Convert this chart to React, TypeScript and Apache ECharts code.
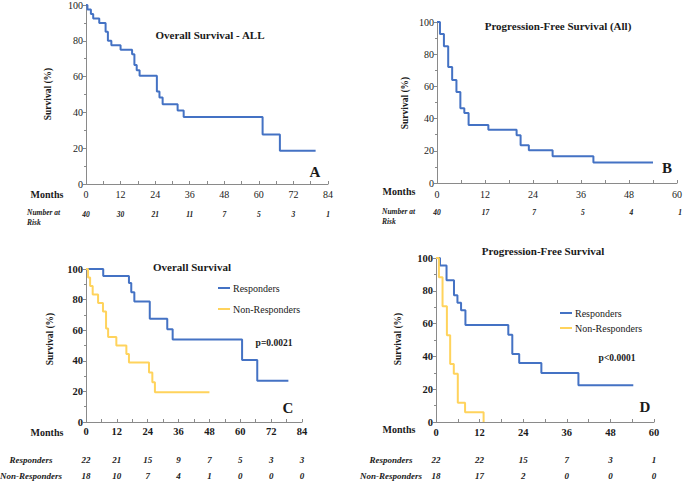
import React, { useEffect, useRef } from "react";
import * as echarts from "echarts";

const FONT = "Liberation Serif, Times New Roman, serif";
const BLUE = "#4472C4";
const YELLOW = "#FFD35C";
const AXIS = "#8a8a8a";
const INK = "#1a1a1a";

// Panel A: Overall Survival - ALL
const osAllMonths = [0, 0.5, 1.7, 2.5, 4.6, 6.8, 7.6, 8.8, 12.0, 16.0, 16.8, 17.6, 18.6, 24.6, 25.5, 26.6, 31.8, 33.9, 61.3, 67.3, 79.7];
const osAllSurvival = [100, 97.5, 95, 92.5, 90, 85, 80, 77.5, 75, 72.5, 66.5, 63.5, 60.5, 51.7, 48.3, 44.6, 41, 37.4, 27.7, 18.6, 18.6];
const osAllAtRisk = [40, 30, 21, 11, 7, 5, 3, 1];
const osTicks = [0, 12, 24, 36, 48, 60, 72, 84];

// Panel B: Progression-Free Survival (All)
const pfsAllMonths = [0, 0.74, 1.73, 2.8, 3.79, 4.86, 5.84, 6.83, 7.9, 12.84, 19.9, 20.9, 22.96, 28.9, 39.1, 54.0];
const pfsAllSurvival = [100, 92.5, 85, 72, 64, 56.5, 46.5, 43.5, 36, 33, 29.7, 23.4, 20.3, 16.6, 12.8, 12.8];
const pfsAllAtRisk = [40, 17, 7, 5, 4, 1];
const pfsTicks = [0, 12, 24, 36, 48, 60];

// Panel C: Overall Survival by response
const osRespMonths = [0, 6.7, 16.7, 17.6, 18.8, 24.8, 31.6, 33.7, 60.7, 66.6, 78.7];
const osRespSurvival = [100, 95.5, 90.9, 84.8, 78.7, 67.5, 60.7, 54, 40.5, 27, 27];
const osNonMonths = [0, 0.8, 1.6, 2.6, 4.7, 6.6, 7.8, 8.6, 11.8, 15.7, 16.7, 24.5, 25.8, 26.8, 48];
const osNonSurvival = [100, 94.4, 88.9, 83.3, 77.8, 72.2, 61.1, 55.6, 50, 44.4, 38.9, 32.4, 25.9, 19.4, 19.4];
const osRespAtRisk = [22, 21, 15, 9, 7, 5, 3, 3];
const osNonAtRisk = [18, 10, 7, 4, 1, 0, 0, 0];

// Panel D: Progression-Free Survival by response
const pfsRespMonths = [0, 1.1, 2.9, 4.95, 5.9, 6.9, 8.1, 19.9, 21.0, 22.9, 29.0, 39.2, 54.3];
const pfsRespSurvival = [100, 95.5, 86.4, 77.3, 72.7, 68.2, 59.1, 53.2, 41.4, 35.9, 29.9, 22.4, 22.4];
const pfsNonMonths = [0, 0.8, 1.8, 3.0, 3.9, 4.9, 6.0, 8.0, 13.1];
const pfsNonSurvival = [100, 88.2, 70.6, 52.9, 35.3, 29.4, 11.8, 5.9, 0];
const pfsRespAtRisk = [22, 22, 15, 7, 3, 1];
const pfsNonAtRisk = [18, 17, 2, 0, 0, 0];

const grids = [
  { left: 86, top: 5, width: 242, height: 179 },
  { left: 437, top: 22, width: 243, height: 161 },
  { left: 86, top: 269, width: 216, height: 153 },
  { left: 436, top: 258, width: 218, height: 164 },
];
const xMax = [84, 60, 84, 60];

const zip = (a: number[], b: number[]) => a.map((v, i) => [v, b[i]]);

function xAxisFor(gi: number, bold: boolean, margin: number) {
  return {
    type: "value",
    gridIndex: gi,
    min: 0,
    max: xMax[gi],
    interval: 12,
    axisLine: { show: true, onZero: false, lineStyle: { color: AXIS, width: 1 } },
    axisTick: { show: true, inside: true, length: 3, lineStyle: { color: AXIS } },
    minorTick: { show: true, splitNumber: 2, length: 3, lineStyle: { color: AXIS } },
    splitLine: { show: false },
    axisLabel: {
      fontFamily: FONT,
      fontSize: bold ? 10.5 : 10,
      fontWeight: bold ? "bold" : "normal",
      color: INK,
      margin,
    },
  };
}

function yAxisFor(gi: number, bold: boolean) {
  return {
    type: "value",
    gridIndex: gi,
    min: 0,
    max: 100,
    interval: 20,
    axisLine: { show: true, onZero: false, lineStyle: { color: AXIS, width: 1 } },
    axisTick: { show: true, length: 3, lineStyle: { color: AXIS } },
    minorTick: { show: true, splitNumber: 2, length: 2, lineStyle: { color: AXIS } },
    splitLine: { show: false },
    axisLabel: {
      fontFamily: FONT,
      fontSize: bold ? 10.5 : 10,
      fontWeight: bold ? "bold" : "normal",
      color: INK,
      margin: 3,
    },
  };
}

function kmSeries(gi: number, months: number[], surv: number[], color: string, name: string) {
  return {
    type: "line",
    name,
    xAxisIndex: gi,
    yAxisIndex: gi,
    data: zip(months, surv),
    step: "end",
    symbol: "none",
    showSymbol: false,
    silent: true,
    lineStyle: { color, width: 2 },
    itemStyle: { color },
  };
}

function txt(text: string, x: number, y: number, size: number, weight = "normal", align = "center", fontStyle = "normal", rotation = 0) {
  return {
    type: "text",
    x,
    y,
    rotation,
    silent: true,
    style: {
      text,
      fontFamily: FONT,
      fontSize: size,
      fontWeight: weight,
      fontStyle,
      fill: INK,
      align,
      verticalAlign: "middle",
    },
  };
}

function tickX(gi: number, month: number) {
  const g = grids[gi];
  return g.left + (month / xMax[gi]) * g.width;
}

function legendItem(x: number, y: number, color: string, label: string) {
  return [
    { type: "line", silent: true, shape: { x1: x, y1: y, x2: x + 12, y2: y }, style: { stroke: color, lineWidth: 2 } },
    txt(label, x + 15, y, 10, "normal", "left"),
  ];
}

export default function App() {
  const ref = useRef<HTMLDivElement>(null);
  useEffect(() => {
    if (!ref.current) return;
    const chart = echarts.init(ref.current, null, { renderer: "svg" });

    const graphic: any[] = [
      txt("Overall Survival - ALL", 210, 35, 11, "bold"),
      txt("Progression-Free Survival (All)", 558, 26, 11, "bold"),
      txt("Overall Survival", 192, 267, 11, "bold"),
      txt("Progression-Free Survival", 543, 251, 11, "bold"),
      txt("Survival (%)", 48, 94, 9.5, "bold", "center", "normal", Math.PI / 2),
      txt("Survival (%)", 405, 103, 9.5, "bold", "center", "normal", Math.PI / 2),
      txt("Survival (%)", 50, 339, 9.5, "bold", "center", "normal", Math.PI / 2),
      txt("Survival (%)", 398, 339, 9.5, "bold", "center", "normal", Math.PI / 2),
      txt("Months", 47, 194, 10, "bold"),
      txt("Months", 399, 191, 10, "bold"),
      txt("Months", 47, 432, 10, "bold"),
      txt("Months", 399, 429, 10, "bold"),
      txt("A", 315, 172, 15, "bold"),
      txt("B", 667, 168, 15, "bold"),
      txt("C", 288, 408, 15, "bold"),
      txt("D", 645, 407, 15, "bold"),
      txt("p=0.0021", 274, 343, 9.5, "bold"),
      txt("p<0.0001", 617, 358, 9.5, "bold"),
      txt("Number at", 27, 212, 7.5, "bold", "left", "italic"),
      txt("Risk", 27, 222.5, 7.5, "bold", "left", "italic"),
      txt("Number at", 382, 211.5, 7.5, "bold", "left", "italic"),
      txt("Risk", 382, 221, 7.5, "bold", "left", "italic"),
      txt("Responders", 31, 460, 9, "bold", "center", "italic"),
      txt("Non-Responders", 31, 476, 9, "bold", "center", "italic"),
      txt("Responders", 391, 460, 9, "bold", "center", "italic"),
      txt("Non-Responders", 391, 476, 9, "bold", "center", "italic"),
      ...legendItem(218, 288, BLUE, "Responders"),
      ...legendItem(218, 309, YELLOW, "Non-Responders"),
      ...legendItem(560, 313, BLUE, "Responders"),
      ...legendItem(560, 328, YELLOW, "Non-Responders"),
    ];

    osAllAtRisk.forEach((n, i) => graphic.push(txt(String(n), tickX(0, osTicks[i]), 214, 7.5, "bold", "center", "italic")));
    pfsAllAtRisk.forEach((n, i) => graphic.push(txt(String(n), tickX(1, pfsTicks[i]), 212, 7.5, "bold", "center", "italic")));
    osRespAtRisk.forEach((n, i) => graphic.push(txt(String(n), tickX(2, osTicks[i]), 460, 9, "bold", "center", "italic")));
    osNonAtRisk.forEach((n, i) => graphic.push(txt(String(n), tickX(2, osTicks[i]), 476, 9, "bold", "center", "italic")));
    pfsRespAtRisk.forEach((n, i) => graphic.push(txt(String(n), tickX(3, pfsTicks[i]), 460, 9, "bold", "center", "italic")));
    pfsNonAtRisk.forEach((n, i) => graphic.push(txt(String(n), tickX(3, pfsTicks[i]), 476, 9, "bold", "center", "italic")));

    chart.setOption({
      animation: false,
      backgroundColor: "#ffffff",
      textStyle: { fontFamily: FONT },
      grid: grids.map((g) => ({ ...g, containLabel: false })),
      xAxis: [xAxisFor(0, false, 5), xAxisFor(1, false, 6), xAxisFor(2, true, 4), xAxisFor(3, true, 5)],
      yAxis: [yAxisFor(0, false), yAxisFor(1, false), yAxisFor(2, true), yAxisFor(3, true)],
      series: [
        kmSeries(0, osAllMonths, osAllSurvival, BLUE, "OS all"),
        kmSeries(1, pfsAllMonths, pfsAllSurvival, BLUE, "PFS all"),
        kmSeries(2, osRespMonths, osRespSurvival, BLUE, "Responders"),
        kmSeries(2, osNonMonths, osNonSurvival, YELLOW, "Non-Responders"),
        kmSeries(3, pfsRespMonths, pfsRespSurvival, BLUE, "Responders"),
        kmSeries(3, pfsNonMonths, pfsNonSurvival, YELLOW, "Non-Responders"),
      ],
      graphic,
    });
    return () => chart.dispose();
  }, []);
  return (
    <div
      ref={ref}
      style={{ position: "absolute", left: 0, top: 0, width: 685, height: 482, background: "#fff" }}
    />
  );
}
